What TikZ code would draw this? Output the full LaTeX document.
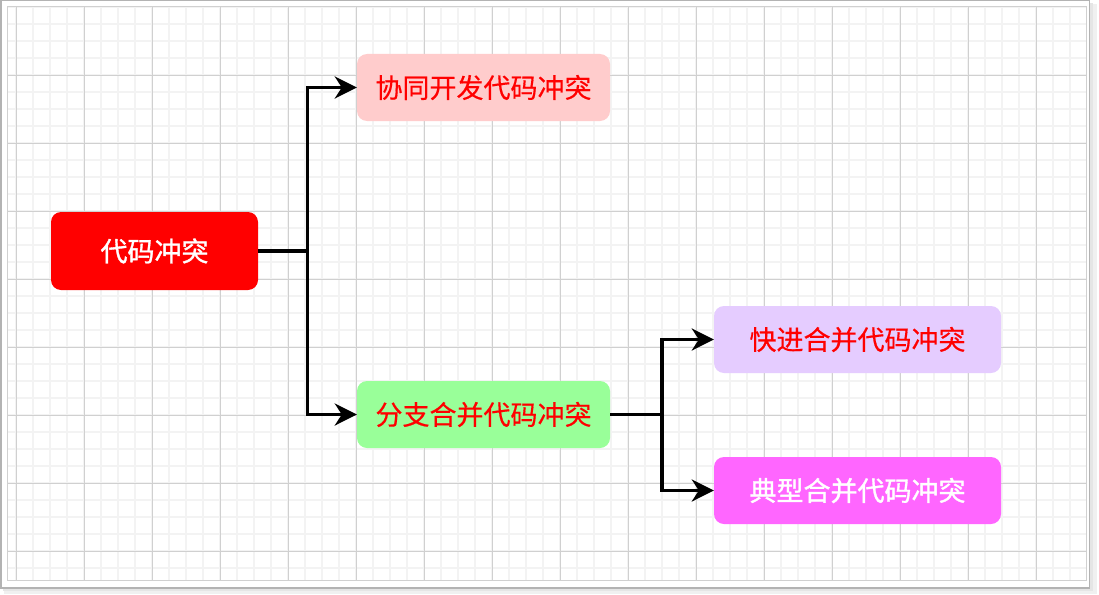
\documentclass[tikz,border=0pt]{standalone}
\usepackage{fontspec}
\newfontfamily\cjk[FakeBold=0.5]{Noto Sans CJK SC}
\newfontfamily\cjkb[FakeBold=1.2]{Noto Sans CJK SC}
\usetikzlibrary{arrows.meta}
\definecolor{framegray}{HTML}{B3B3B3}
\definecolor{gridmajor}{HTML}{D0D0D0}
\definecolor{gridminor}{HTML}{F3F3F3}
\definecolor{cred}{HTML}{FF0000}
\definecolor{cpink}{HTML}{FFCCCC}
\definecolor{cgreen}{HTML}{99FF99}
\definecolor{clav}{HTML}{E5CCFF}
\definecolor{cmag}{HTML}{FF66FF}
\tikzset{
  box/.style={rounded corners=10pt, draw=none, inner sep=0pt, font=\cjk\fontsize{27}{31}\selectfont},
  redtext/.style={text=cred},
  whitetext/.style={text=white, font=\cjkb\fontsize{27}{31}\selectfont},
  wire/.style={line width=3.6pt, draw=black},
  conn/.style={wire, -{Stealth[length=22pt,width=22pt,inset=7pt]}},
}
\begin{document}
\begin{tikzpicture}[x=1pt,y=-1pt]
\useasboundingbox (0,0) rectangle (1099,594);
% shadow
\fill[black!6] (4,4) rectangle (1097,594);
\fill[black!10] (3,3) rectangle (1093,591);
% frame
\filldraw[fill=white, draw=framegray, line width=1.5pt] (0.75,0.75) rectangle (1089.5,588);
% grid
\begin{scope}
\clip (7,7) rectangle (1086,580);
\foreach \k in {0,...,64} {
  \draw[gridminor, line width=1.5pt] ({16+17*\k-17},7) -- ({16+17*\k-17},580);
}
\foreach \k in {0,...,34} {
  \draw[gridminor, line width=1.5pt] (7,{7+17*\k}) -- (1086,{7+17*\k});
}
\foreach \k in {0,...,16} {
  \draw[gridmajor, line width=1pt] ({16+68*\k},7) -- ({16+68*\k},580);
}
\foreach \k in {0,...,8} {
  \draw[gridmajor, line width=1pt] (7,{7+68*\k}) -- (1086,{7+68*\k});
}
\end{scope}
\draw[gridmajor, line width=1pt] (7,7) rectangle (1086,580);
% nodes
\node[box, whitetext, fill=cred, minimum width=207pt, minimum height=78pt] (root) at (154.5,251) {代码冲突};
\node[box, redtext, fill=cpink, minimum width=253pt, minimum height=67pt] (n1) at (483.5,87.5) {协同开发代码冲突};
\node[box, redtext, fill=cgreen, minimum width=253pt, minimum height=67pt] (n2) at (483.5,414.5) {分支合并代码冲突};
\node[box, redtext, fill=clav, minimum width=287pt, minimum height=67pt] (n3) at (857.5,339.5) {快进合并代码冲突};
\node[box, whitetext, fill=cmag, minimum width=287pt, minimum height=67pt] (n4) at (857.5,490.5) {典型合并代码冲突};
% connectors
\coordinate (j1) at (307.5,251);
\coordinate (j2) at (662,414.5);
\draw[wire] (root.east) -- (j1);
\draw[conn] (j1) |- (n1.west);
\draw[conn] (j1) |- (n2.west);
\draw[wire] (n2.east) -- (j2);
\draw[conn] (j2) |- (n3.west);
\draw[conn] (j2) |- (n4.west);
\end{tikzpicture}
\end{document}
